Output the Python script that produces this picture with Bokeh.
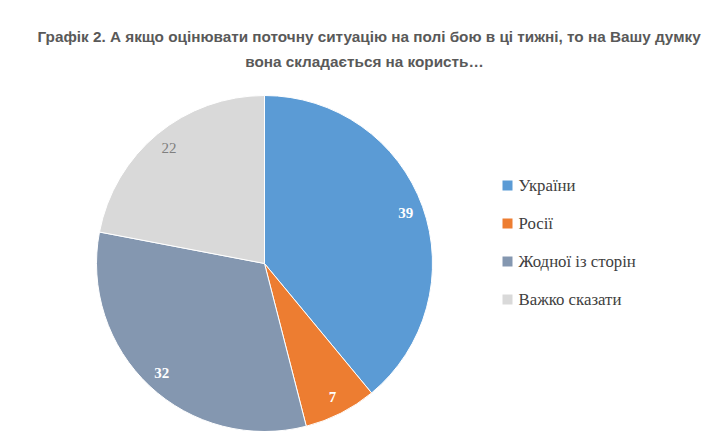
import numpy as np
from bokeh.plotting import figure
from bokeh.models import Range1d, ColumnDataSource
from bokeh.core.properties import value
from bokeh.embed import file_html
from bokeh.resources import INLINE

title_lines = ["Графік 2. А якщо оцінювати поточну ситуацію на полі бою в ці тижні, то на Вашу думку",
               "вона складається на користь…"]
categories = ["України", "Росії", "Жодної із сторін", "Важко сказати"]
values = [39, 7, 32, 22]
colors = ["#5B9BD5", "#ED7D31", "#8497B0", "#D9D9D9"]
label_colors = ["#FFFFFF", "#FFFFFF", "#FFFFFF", "#7F7F7F"]
label_styles = ["bold", "bold", "bold", "normal"]

W, H = 707, 431
p = figure(width=W, height=H, output_backend="svg", toolbar_location=None,
           x_range=Range1d(0, W), y_range=Range1d(0, H), min_border=0)
p.axis.visible = False
p.grid.visible = False
p.outline_line_color = None

def py(pix_y):
    return H - pix_y

def px(pix_x):
    return pix_x

cx, cy, R = px(264), py(263), 168
vals = np.array(values, dtype=float)
frac = vals / vals.sum()
cum = np.concatenate([[0], np.cumsum(frac)])
start = np.pi / 2 - 2 * np.pi * cum[:-1]
end = np.pi / 2 - 2 * np.pi * cum[1:]
mid = (start + end) / 2

src = ColumnDataSource(dict(start=start, end=end, color=colors, cat=categories))
p.wedge(x=cx, y=cy, radius=R, start_angle="start", end_angle="end", direction="clock",
        fill_color="color", line_color="white", line_width=1, source=src)

rl = 150
lsrc = ColumnDataSource(dict(x=cx + rl * np.cos(mid), y=cy + rl * np.sin(mid),
                             t=[str(v) for v in values], c=label_colors, s=label_styles))
p.text(x="x", y="y", text="t", text_color="c", text_font_style="s",
       text_font=value("Liberation Serif"), text_font_size="15px",
       text_align="center", text_baseline="middle", source=lsrc)

# title
p.text(x=[px(37)], y=[py(36)], text=[title_lines[0]], text_font=value("Liberation Sans"),
       text_font_size="15.3px", text_font_style="bold", text_color="#595959",
       text_align="left", text_baseline="middle")
p.text(x=[px(364)], y=[py(61)], text=[title_lines[1]], text_font=value("Liberation Sans"),
       text_font_size="15.3px", text_font_style="bold", text_color="#595959",
       text_align="center", text_baseline="middle")

# legend
leg_y = [185, 223, 261, 299]
p.rect(x=[px(507)] * 4, y=[py(v) for v in leg_y], width=10, height=10,
       fill_color=colors, line_color=None)
p.text(x=[px(518)] * 4, y=[py(v) for v in leg_y], text=categories,
       text_font=value("Liberation Serif"), text_font_size="16.8px", text_color="#404040",
       text_align="left", text_baseline="middle")

open("out.html", "w").write(file_html(p, INLINE))
